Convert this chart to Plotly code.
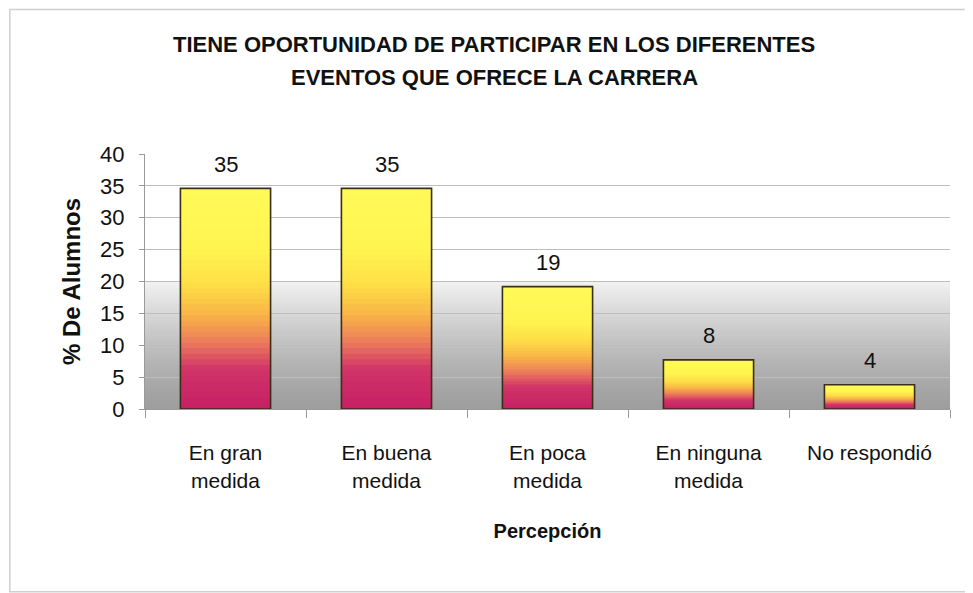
"""Bar chart: participación en eventos de la carrera (% de alumnos)."""

import plotly.graph_objects as go

# ---- data ------------------------------------------------------------------

categories = [
    "En gran<br>medida",
    "En buena<br>medida",
    "En poca<br>medida",
    "En ninguna<br>medida",
    "No respondió",
]
values = [34.6, 34.6, 19.2, 7.7, 3.8]
y_ticks = [0, 5, 10, 15, 20, 25, 30, 35, 40]

title_lines = [
    "TIENE OPORTUNIDAD DE PARTICIPAR EN LOS DIFERENTES",
    "EVENTOS QUE OFRECE LA CARRERA",
]

_ARIAL = "Liberation Sans, Arial, sans-serif"

# bar gradient stops, fraction of bar height from the bottom -> rgb
_BAR_STOPS = [
    (0.00, (198, 32, 100)),
    (0.18, (208, 52, 104)),
    (0.30, (236, 122, 92)),
    (0.42, (248, 178, 72)),
    (0.56, (254, 222, 70)),
    (0.72, (255, 244, 80)),
    (1.00, (255, 250, 88)),
]


def _lerp_color(stops, t):
    for (t0, c0), (t1, c1) in zip(stops, stops[1:]):
        if t <= t1:
            f = (t - t0) / (t1 - t0)
            return "rgb(%d,%d,%d)" % tuple(
                round(a + (b - a) * f) for a, b in zip(c0, c1)
            )
    return "rgb(%d,%d,%d)" % stops[-1][1]


fig = go.Figure()

# gradient fill: nested bars, tallest first, each later one covers the bottom part
N_STEPS = 40
for k in range(N_STEPS - 1, -1, -1):
    frac = (k + 1) / N_STEPS
    fig.add_trace(go.Bar(
        x=categories,
        y=[v * frac for v in values],
        marker=dict(color=_lerp_color(_BAR_STOPS, (k + 0.5) / N_STEPS),
                    line=dict(width=0)),
        hoverinfo="skip",
        showlegend=False,
    ))

# outline
fig.add_trace(go.Bar(
    x=categories,
    y=values,
    marker=dict(color="rgba(0,0,0,0)", line=dict(color="#3b2e18", width=1.6)),
    hovertemplate="%{x}: %{y}<extra></extra>",
    showlegend=False,
))

# value labels
for cat, v in zip(categories, values):
    fig.add_annotation(
        x=cat, y=v, text=str(round(v)), showarrow=False,
        yanchor="middle", yshift=24,
        font=dict(family=_ARIAL, size=22, color="#111111"),
    )

# grey gradient in the lower half of the plot area
shapes = []
M = 40
for j in range(M - 1, -1, -1):
    t = (j + 0.5) / M
    g = round(158 + 84 * t ** 1.3)
    shapes.append(dict(
        type="rect", layer="below", xref="x domain", yref="y",
        x0=0, x1=1, y0=0, y1=20 * (j + 1) / M,
        fillcolor="rgb(%d,%d,%d)" % (g, g, g), line=dict(width=0),
    ))
# chart border
shapes.append(dict(
    type="rect", xref="paper", yref="paper",
    x0=-0.168, x1=1.035, y0=-0.717, y1=1.567,
    line=dict(color="#cfcfcf", width=1.5),
))

for i, line in enumerate(title_lines):
    fig.add_annotation(
        xref="paper", yref="paper", x=0.434, y=1.43 - i * 0.13,
        text="<b>%s</b>" % line, showarrow=False,
        xanchor="center", yanchor="middle",
        font=dict(family=_ARIAL, size=22, color="#111111"),
    )

fig.update_layout(
    width=965, height=585,
    template="plotly_white",
    barmode="overlay",
    bargap=0.44,
    paper_bgcolor="white",
    plot_bgcolor="white",
    margin=dict(l=137, r=23, t=146, b=184),
    shapes=shapes,
    showlegend=False,
)

fig.update_xaxes(
    showline=True, linecolor="#9a9a9a", linewidth=1,
    ticks="outside", tickson="boundaries", ticklen=8, tickcolor="#9a9a9a",
    ticklabelstandoff=25,
    showgrid=False,
    tickfont=dict(family=_ARIAL, size=21, color="#111111"),
    title=dict(text="<b>Percepción</b>", standoff=33,
               font=dict(family=_ARIAL, size=20, color="#111111")),
)

fig.update_yaxes(
    range=[0, 40], tickvals=y_ticks,
    showline=True, linecolor="#9a9a9a", linewidth=1,
    ticks="outside", ticklen=5, tickcolor="#9a9a9a",
    ticklabelstandoff=10,
    showgrid=True, gridcolor="#bdbdbd", gridwidth=1, zeroline=False,
    tickfont=dict(family=_ARIAL, size=22, color="#111111"),
    title=dict(text="<b>% De Alumnos</b>", standoff=12,
               font=dict(family=_ARIAL, size=24, color="#111111")),
)

fig.write_html("out.html")
